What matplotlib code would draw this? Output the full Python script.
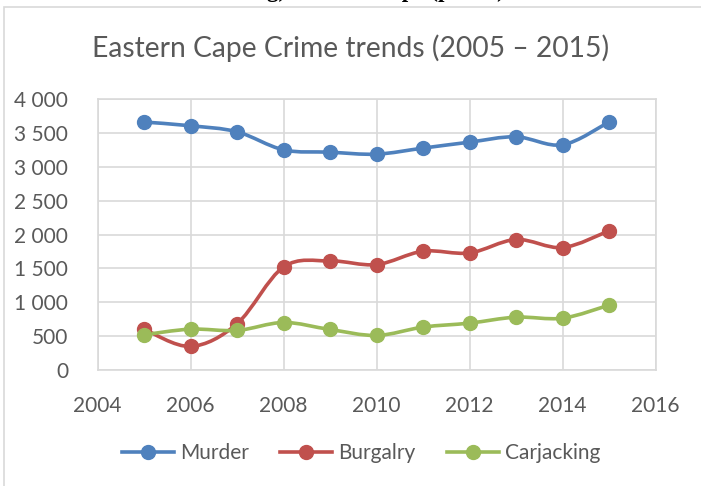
import matplotlib
matplotlib.use("Agg")
import matplotlib.pyplot as plt
from matplotlib.path import Path
from matplotlib.patches import PathPatch, Rectangle
from matplotlib.lines import Line2D
from matplotlib.ticker import FuncFormatter, MultipleLocator
import numpy as np

years = [2005, 2006, 2007, 2008, 2009, 2010, 2011, 2012, 2013, 2014, 2015]
murder = [3660, 3605, 3516, 3250, 3215, 3186, 3275, 3363, 3442, 3324, 3660]
burglary = [603, 348, 682, 1520, 1610, 1556, 1753, 1728, 1926, 1807, 2054]
carjacking = [520, 603, 584, 701, 598, 510, 633, 692, 780, 765, 957]

series = [
    ("Murder", murder, "#4F81BD"),
    ("Burgalry", burglary, "#C0504D"),
    ("Carjacking", carjacking, "#9BBB59"),
]

plt.rcParams["font.family"] = ["Lato", "DejaVu Sans"]
TEXT = "#595959"
GRID = "#D9D9D9"

fig = plt.figure(figsize=(7.01, 4.86), dpi=100)
fig.patch.set_facecolor("white")

# chart frame
fig.patches.append(Rectangle((4 / 701, -0.01), 1.0, 1 - 7 / 486 + 0.01,
                             transform=fig.transFigure, fill=False,
                             edgecolor="#D9D9D9", linewidth=1.2))

# page heading above the chart, running off the top edge
fig.text(0.551, 1 + 2.5 / 486, "g) Eastern Cape (part 1)", ha="center", va="baseline",
         fontsize=16.5, fontweight="bold", family="Liberation Serif", color="black")

ax = fig.add_axes([97.5 / 701, 1 - 370 / 486, (655.5 - 97.5) / 701, (370 - 99) / 486])
ax.set_xlim(2004, 2016)
ax.set_ylim(0, 4000)
ax.xaxis.set_major_locator(MultipleLocator(2))
ax.yaxis.set_major_locator(MultipleLocator(500))
ax.yaxis.set_major_formatter(FuncFormatter(lambda v, p: f"{int(v):,}".replace(",", " ")))
ax.grid(True, color=GRID, linewidth=1.2)
ax.set_axisbelow(True)
for s in ax.spines.values():
    s.set_color(GRID)
    s.set_linewidth(1.2)
ax.tick_params(length=0, labelsize=15, colors=TEXT)
ax.tick_params(axis="y", pad=21)
ax.tick_params(axis="x", pad=19)


def smooth_path(xs, ys):
    pts = np.column_stack([xs, ys]).astype(float)
    verts = [pts[0]]
    codes = [Path.MOVETO]
    n = len(pts)
    for i in range(n - 1):
        p0 = pts[max(i - 1, 0)]
        p1 = pts[i]
        p2 = pts[i + 1]
        p3 = pts[min(i + 2, n - 1)]
        c1 = p1 + (p2 - p0) / 6.0
        c2 = p2 - (p3 - p1) / 6.0
        verts += [c1, c2, p2]
        codes += [Path.CURVE4] * 3
    return Path(verts, codes)


handles = []
for name, vals, color in series:
    ax.add_patch(PathPatch(smooth_path(years, vals), facecolor="none",
                           edgecolor=color, linewidth=2.6, zorder=3,
                           capstyle="round", joinstyle="round"))
    ax.plot(years, vals, linestyle="none", marker="o", markersize=10,
            color=color, zorder=4)
    handles.append(Line2D([], [], color=color, linewidth=2.6, marker="o",
                          markersize=10, label=name))

fig.text(351 / 701, 1 - 48 / 486, "Eastern Cape Crime trends (2005 \u2013 2015)",
         ha="center", va="center", fontsize=20.3, color=TEXT)

leg = fig.legend(handles=handles, loc="center", bbox_to_anchor=(361 / 701, 1 - 453 / 486),
                 ncol=3, frameon=False, fontsize=15, handlelength=2.5,
                 columnspacing=1.5, handletextpad=0.3)
for t in leg.get_texts():
    t.set_color(TEXT)

fig.savefig("out.png", dpi=100)
